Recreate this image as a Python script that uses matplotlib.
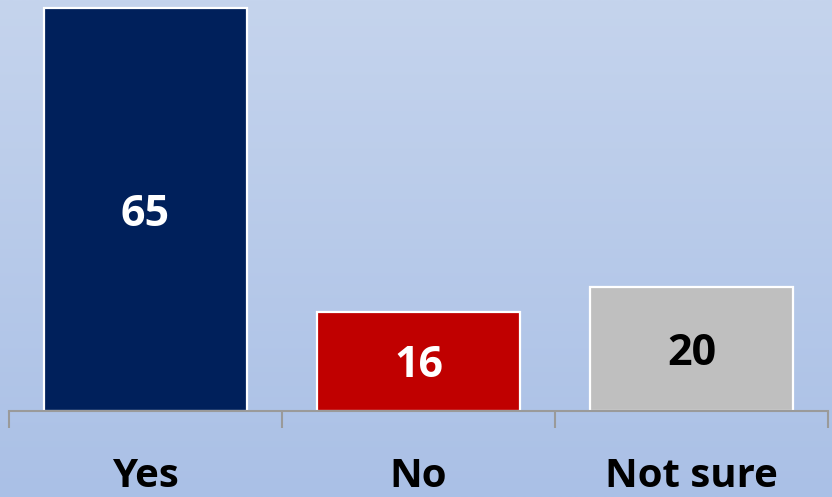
import matplotlib.pyplot as plt
import numpy as np
from matplotlib.colors import LinearSegmentedColormap

# data
categories = ['Yes', 'No', 'Not sure']
values = [65, 16, 20]
bar_colors = ['#00205b', '#c00000', '#bfbfbf']
label_colors = ['white', 'white', 'black']

fig = plt.figure(figsize=(8.32, 4.97), dpi=100)

# gradient background over the whole figure
bg = fig.add_axes([0, 0, 1, 1], zorder=0)
cmap = LinearSegmentedColormap.from_list('bg', ['#aac0e6', '#c5d4ed'])
grad = np.linspace(0, 1, 256).reshape(-1, 1)
bg.imshow(grad, aspect='auto', cmap=cmap, origin='lower', extent=[0, 1, 0, 1])
bg.axis('off')

ax = fig.add_axes([9 / 832, 86 / 497, 819 / 832, 411 / 497], zorder=1)
ax.patch.set_alpha(0)

x = np.arange(len(categories))
ax.bar(x, values, width=0.745, color=bar_colors, edgecolor='white', linewidth=1.6)

# value labels, centred in the bars
for xi, v, c in zip(x, values, label_colors):
    ax.annotate(str(v), (xi, v / 2), xytext=(0, -11.5), textcoords='offset points',
                ha='center', va='baseline', color=c,
                fontsize=31, fontweight='bold', family='Open Sans')

ax.set_xlim(-0.5, 2.5)
ax.set_ylim(0, 66.3)

for s in ['top', 'right', 'left']:
    ax.spines[s].set_visible(False)
ax.spines['bottom'].set_color('#9a9a9a')
ax.spines['bottom'].set_linewidth(1.5)
ax.set_yticks([])

# tick marks between categories
ax.set_xticks([-0.5, 0.5, 1.5, 2.5])
ax.set_xticklabels([])
ax.tick_params(axis='x', length=12, width=1.5, color='#9a9a9a', direction='out')

for xi, cat in zip(x, categories):
    ax.text(xi, -0.185, cat, transform=ax.get_xaxis_transform(), ha='center', va='baseline',
            fontsize=29, fontweight='bold', family='Open Sans', color='black')

fig.savefig('out.png', dpi=100)
